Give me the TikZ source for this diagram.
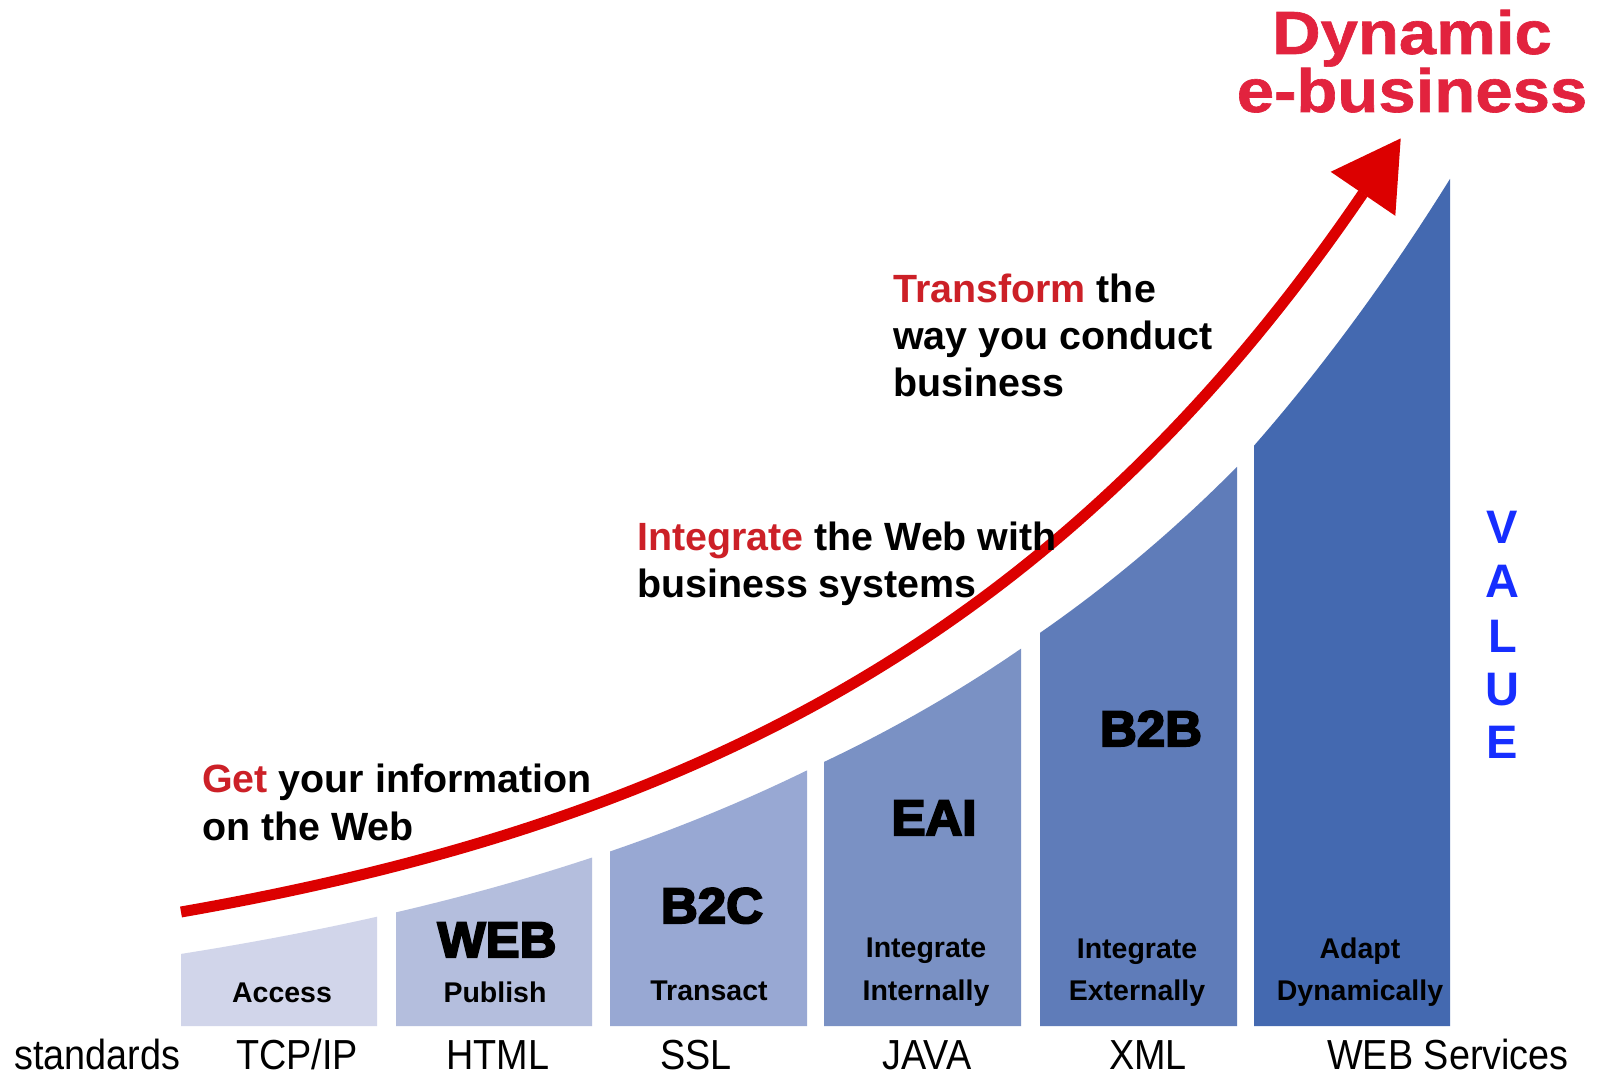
\documentclass[tikz,border=0pt]{standalone}
\usepackage{fontspec}
\setmainfont{Liberation Sans}
\newfontfamily\heavyfont[BoldFeatures={FakeBold=4,FakeStretch=1.02}]{Liberation Sans}
\newfontfamily\widefont[BoldFeatures={FakeBold=1,FakeStretch=1.1}]{Liberation Sans}
\newfontfamily\narrowfont[FakeStretch=0.9]{Liberation Sans}
\usepackage{xcolor}
\usepackage{tikz}
\definecolor{ebred}{RGB}{226,35,62}
\definecolor{keyred}{RGB}{204,32,39}
\definecolor{arrowred}{RGB}{220,0,0}
\definecolor{valblue}{RGB}{22,46,255}
\definecolor{barA}{RGB}{209,213,234}
\definecolor{barB}{RGB}{180,190,221}
\definecolor{barC}{RGB}{152,168,211}
\definecolor{barD}{RGB}{122,145,196}
\definecolor{barE}{RGB}{95,124,185}
\definecolor{barF}{RGB}{68,105,176}
% top edge of the bars and the red curve (x and y in px)
\newcommand\bartop[1]{1041.9-63.5*exp(0.0018*#1)}
\newcommand\redtop[1]{1009.1-70.1*exp(0.0018*#1)}
\tikzset{
  headline/.style={anchor=base,inner sep=0pt,text=ebred,font=\fontsize{61}{70}\widefont\bfseries},
  msg/.style={anchor=base west,inner sep=0pt,font=\fontsize{39.4}{47}\selectfont\bfseries},
  barword/.style={anchor=base,inner sep=0pt,font=\fontsize{28.5}{34}\selectfont\bfseries},
  bigword/.style={anchor=base,inner sep=0pt,font=\fontsize{50}{60}\heavyfont\bfseries},
  stdword/.style={anchor=base,inner sep=0pt,font=\fontsize{42}{50}\narrowfont},
  vletter/.style={anchor=base,inner sep=0pt,text=valblue,font=\fontsize{47}{54}\selectfont\bfseries}
}
\begin{document}
\begin{tikzpicture}[x=1pt,y=-1pt]
\useasboundingbox (0,0) rectangle (1609,1078);
\fill[white] (0,0) rectangle (1609,1078);

% bars
\fill[barA] (181,1026) -- plot[domain=181:377,samples=20] (\x,{\bartop{\x}}) -- (377,1026) -- cycle;
\fill[barB] (396,1026) -- plot[domain=396:592,samples=20] (\x,{\bartop{\x}}) -- (592,1026) -- cycle;
\fill[barC] (610,1026) -- plot[domain=610:807,samples=20] (\x,{\bartop{\x}}) -- (807,1026) -- cycle;
\fill[barD] (824,1026) -- plot[domain=824:1021,samples=20] (\x,{\bartop{\x}+0.03*(\x-824)}) -- (1021,1026) -- cycle;
\fill[barE] (1040,1026) -- plot[domain=1040:1237,samples=20] (\x,{\bartop{\x}+4+0.05*(\x-1040)}) -- (1237,1026) -- cycle;
\fill[barF] (1254,1026) -- plot[domain=1254:1450,samples=20] (\x,{\bartop{\x}+11-0.05*(\x-1254)}) -- (1450,1026) -- cycle;

% arrow
\draw[arrowred,line width=11pt] plot[domain=181:1363,samples=100] (\x,{\redtop{\x}});
\coordinate (tip) at (1400.7,138.4);
\coordinate (wingR) at (1395.3,215.8);
\coordinate (wingL) at (1330.7,171.8);
\fill[arrowred] (tip) -- (wingR) -- (wingL) -- cycle;

\node (dyn) at (1412,54) [headline] {Dynamic};
\node (ebiz) at (1412,112) [headline] {e-business};

\node (tr1) at (893,302) [msg] {\textcolor{keyred}{Transform} the};
\node (tr2) at (893,349) [msg] {way you conduct};
\node (tr3) at (893,396) [msg] {business};

\node (in1) at (637,550) [msg] {\textcolor{keyred}{Integrate} the Web with};
\node (in2) at (637,597) [msg] {business systems};

\node (ge1) at (202,792) [msg] {\textcolor{keyred}{Get} your information};
\node (ge2) at (202,840) [msg] {on the Web};

\node (web) at (497,957) [bigword] {WEB};
\node (btc) at (712,923) [bigword] {B2C};
\node (eai) at (934,835) [bigword] {EAI};
\node (btb) at (1151,746) [bigword] {B2B};

\node (acc) at (282,1002) [barword] {Access};
\node (pub) at (495,1002) [barword] {Publish};
\node (tra) at (709,1000) [barword] {Transact};
\node (ii1) at (926,957) [barword] {Integrate};
\node (ii2) at (926,1000) [barword] {Internally};
\node (ie1) at (1137,958) [barword] {Integrate};
\node (ie2) at (1137,1000) [barword] {Externally};
\node (ad1) at (1360,958) [barword] {Adapt};
\node (ad2) at (1360,1000) [barword] {Dynamically};

\node (vV) at (1502.5,543) [vletter] {V};
\node (vA) at (1502.5,597) [vletter] {A};
\node (vL) at (1502.5,652) [vletter] {L};
\node (vU) at (1502.5,705) [vletter] {U};
\node (vE) at (1502.5,758) [vletter] {E};

\node (std) at (14,1069) [stdword,anchor=base west] {standards};
\node (tcp) at (297,1069) [stdword] {TCP/IP};
\node (htm) at (498,1069) [stdword] {HTML};
\node (ssl) at (696,1069) [stdword] {SSL};
\node (jav) at (927,1069) [stdword] {JAVA};
\node (xml) at (1148,1069) [stdword] {XML};
\node (wbs) at (1448,1069) [stdword] {WEB Services};
\end{tikzpicture}
\end{document}
